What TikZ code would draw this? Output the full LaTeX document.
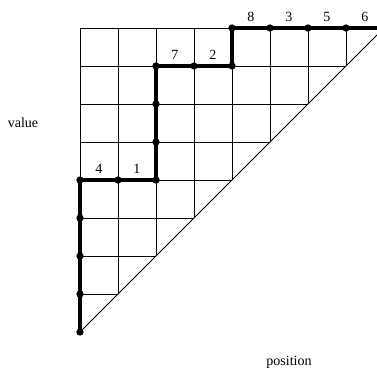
\documentclass[tikz,border=0pt]{standalone}
\usepackage{fontspec}
\setmainfont{Liberation Serif}
\usetikzlibrary{calc}
\begin{document}
\begin{tikzpicture}[x=1cm, y=1cm,
  gridline/.style={line width=0.6pt},
  walk/.style={line width=3pt},
  dot/.style={circle, fill, inner sep=0pt, minimum size=5.5pt},
  lab/.style={font=\fontsize{10.5}{12}\selectfont, inner sep=0pt, yshift=3mm},
  axis/.style={font=\fontsize{10.5}{12}\selectfont}
]
\useasboundingbox (-2.105,-1.132) rectangle (7.816,8.737);
\clip (-2.105,-1.132) rectangle (7.816,8.737);
% staircase grid
\foreach \i in {0,...,8} {
  \draw[gridline] (\i,\i) -- (\i,8);
  \draw[gridline] (0,\i) -- (\i,\i);
}
\draw[gridline] (0,0) -- (8,8);
% lattice path
\foreach \n/\x/\y in {0/0/0, 1/0/1, 2/0/2, 3/0/3, 4/0/4, 5/1/4, 6/2/4, 7/2/5, 8/2/6,
  9/2/7, 10/3/7, 11/4/7, 12/4/8, 13/5/8, 14/6/8, 15/7/8, 16/8/8}
  \node[dot] (p\n) at (\x,\y) {};
\draw[walk] (p0.center) -- (p4.center) -- (p6.center) -- (p9.center)
  -- (p11.center) -- (p12.center) -- (p16.center);
% step labels
\foreach \a/\b/\t in {4/5/4, 5/6/1, 9/10/7, 10/11/2, 12/13/8, 13/14/3, 14/15/5, 15/16/6}
  \node[lab] (l\t) at ($(p\a)!0.5!(p\b)$) {\t};
\node[axis] (value) at (-1.5,5.5) {value};
\node[axis] (position) at (5.5,-0.8) {position};
\end{tikzpicture}
\end{document}
